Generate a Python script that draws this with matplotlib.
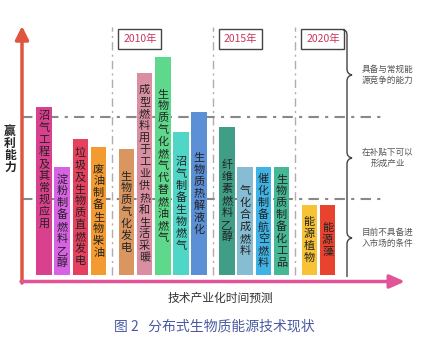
import matplotlib
matplotlib.use('Agg')
import matplotlib.pyplot as plt
from matplotlib.patches import Rectangle, PathPatch
from matplotlib.path import Path

plt.rcParams['font.family'] = ['Noto Sans CJK SC', 'DejaVu Sans']

# ---------------- data ----------------
technologies = [
    '沼气工程及其常规应用', '淀粉制备燃料乙醇', '垃圾及生物质直燃发电', '废油制备生物柴油',
    '生物质气化发电', '成型燃料用于工业供热和生活采暖', '生物质气化燃气代替燃油燃气',
    '沼气制备生物燃气', '生物质热解液化',
    '纤维素燃料乙醇', '气化合成燃料', '催化制备航空燃料', '生物质制备化工品',
    '能源植物', '能源藻',
]
profitability = [168, 108, 136, 128, 126, 202, 218, 143, 163, 148, 108, 108, 108, 70, 70]
period_index = [0, 0, 0, 0, 1, 1, 1, 1, 1, 2, 2, 2, 2, 3, 3]
period_labels = ['2010年', '2015年', '2020年']
bar_colors = ['#d9418f', '#d862e4', '#e5405e', '#f39a30', '#d99660', '#d98ea2', '#5ed88a',
              '#4fd6c6', '#5b8fd6', '#3f9e85', '#86bdd3', '#3fb3e6', '#46b895', '#f7c234', '#e8432f']
tier_thresholds = [76, 158]
tier_labels = ['目前不具备进\n入市场的条件', '在补贴下可以\n形成产业', '具备与常规能\n源竞争的能力']
y_label = '赢利能力'
x_label = '技术产业化时间预测'
caption = '图 2   分布式生物质能源技术现状'

# ---------------- figure ----------------
fig = plt.figure(figsize=(4.31, 3.42), dpi=100)
ax = fig.add_axes([0, 0, 1, 1])
ax.set_xlim(0, 431)
ax.set_ylim(-67, 275)
ax.axis('off')

x0, step, gap, bw = 44, 18.2, 9.6, 15.5
xs = [x0 + i * step + g * gap for i, g in enumerate(period_index)]
ax.bar(xs, profitability, width=bw, color=bar_colors, zorder=3, linewidth=0)

# vertical labels inside bars
char_step = 12
label_center_override = {0: 105}
for i, (x, h, name) in enumerate(zip(xs, profitability, technologies)):
    n = len(name)
    c = label_center_override.get(i, h / 2)
    for k, ch in enumerate(name):
        yk = c + ((n - 1) / 2 - k) * char_step
        ax.text(x, yk, ch, ha='center', va='center', fontsize=8, color='#222222', zorder=4)

# period separators and year boxes
top_val = 248
seps = []
for g in range(1, 4):
    left = max(x for x, p in zip(xs, period_index) if p == g - 1)
    right = min(x for x, p in zip(xs, period_index) if p == g)
    seps.append((left + right) / 2)
for sx, lab in zip(seps, period_labels):
    ax.plot([sx, sx], [0, top_val], color='#b8a8b0', lw=1.0,
            linestyle=(0, (6, 3, 1.5, 3)), zorder=1)
    ax.add_patch(Rectangle((sx + 6, 226), 43, 20, fill=False, edgecolor='#444444', lw=1.0, zorder=2))
    ax.text(sx + 6 + 21.5, 236, lab, ha='center', va='center', fontsize=7.5, color='#c8365a')

# tier threshold lines
for t in tier_thresholds:
    ax.plot([22, 385], [t, t], color='#888888', lw=1.5,
            linestyle=(0, (5, 3, 1.5, 3)), zorder=1)

# axes arrows
ax.annotate('', xy=(22, 249), xytext=(22, -8),
            arrowprops=dict(arrowstyle='-|>,head_length=0.8,head_width=0.4',
                            color='#e0553f', lw=2.5, shrinkA=0, shrinkB=0), zorder=5)
ax.annotate('', xy=(405, -6.5), xytext=(21, -6.5),
            arrowprops=dict(arrowstyle='-|>,head_length=0.9,head_width=0.4',
                            color='#e0559a', lw=2.5, shrinkA=0, shrinkB=0), zorder=5)

# brace
bx, tipx, d = 347, 352, 6
bounds = [-2] + tier_thresholds + [242]
verts = [(bx - 4, 245), (bx, 245), (bx, 240)]
codes = [Path.MOVETO, Path.CURVE3, Path.CURVE3]
for lo, hi in reversed(list(zip(bounds[:-1], bounds[1:]))):
    m = (lo + hi) / 2
    verts += [(bx, m + d), (bx, m + 1), (tipx, m), (bx, m - 1), (bx, m - d), (bx, lo)]
    codes += [Path.LINETO, Path.CURVE3, Path.CURVE3, Path.CURVE3, Path.CURVE3, Path.LINETO]
ax.add_patch(PathPatch(Path(verts, codes), fill=False, edgecolor='#444444', lw=1.0, zorder=2))

for (lo, hi), lab in zip(zip(bounds[:-1], bounds[1:]), tier_labels):
    ax.text(388, (lo + hi) / 2, lab, ha='center', va='center', fontsize=6.2,
            color='#555555', linespacing=1.3)

# axis labels
n = len(y_label)
for k, ch in enumerate(y_label):
    ax.text(10, 126 + ((n - 1) / 2 - k) * 12, ch, ha='center', va='center',
            fontsize=8.5, fontweight='bold', color='#222222')
ax.text(220, -23, x_label, ha='center', va='center', fontsize=8.5, color='#333333')
ax.text(214, -52, caption, ha='center', va='center', fontsize=10, color='#4a5aa0')

fig.savefig('out.png', dpi=100)
